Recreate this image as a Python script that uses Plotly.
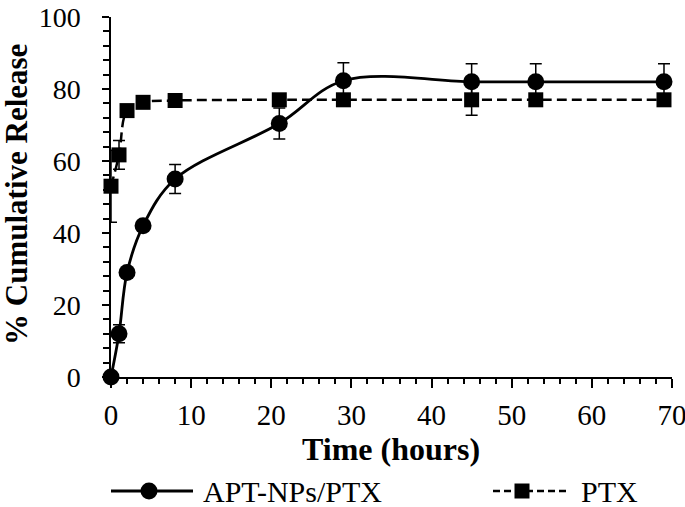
import plotly.graph_objects as go

time_hours = [0, 1, 2, 4, 8, 21, 29, 45, 53, 69]
apt_nps_ptx = [0, 12, 29, 42, 55, 70.4, 82.3, 82, 82, 82]
apt_err = [0, 2.5, 0, 0, 4, 4.3, 5, 5, 5, 5]
ptx = [53, 61.7, 74, 76.3, 76.8, 77, 77, 77, 77, 77]
ptx_err = [10, 4, 0, 0, 0, 0, 0, 4.3, 0, 0]
legend_labels = ["APT-NPs/PTX", "PTX"]
x_title = "<b>Time (hours)</b>"
y_title = "<b>% Cumulative Release</b>"

FONT = "Liberation Serif"

fig = go.Figure()
fig.add_trace(go.Scatter(
    x=time_hours, y=ptx, name=legend_labels[1], mode="lines+markers",
    line=dict(color="black", width=2.5, dash="10px,5px", shape="spline", smoothing=1),
    marker=dict(symbol="square", size=15, color="black"),
    error_y=dict(type="data", array=ptx_err, visible=True, color="black", thickness=1.5, width=6),
    showlegend=False, cliponaxis=False,
))
fig.add_trace(go.Scatter(
    x=time_hours, y=apt_nps_ptx, name=legend_labels[0], mode="lines+markers",
    line=dict(color="black", width=2.8, shape="spline", smoothing=1),
    marker=dict(symbol="circle", size=17, color="black"),
    error_y=dict(type="data", array=apt_err, visible=True, color="black", thickness=1.5, width=6),
    showlegend=False, cliponaxis=False,
))

# plot area in pixels
L, R, T, B = 111, 672, 17, 377
W, H = R - L, B - T
def px(x):
    return (x - L) / W
def py(y):
    return (B - y) / H

shapes = []
annotations = []
ly = py(491)
# legend entry 1: solid line + circle
shapes.append(dict(type="line", xref="paper", yref="paper", x0=px(111), x1=px(193), y0=ly, y1=ly,
                   line=dict(color="black", width=2.8)))
shapes.append(dict(type="circle", xref="paper", yref="paper", x0=px(149 - 8.5), x1=px(149 + 8.5),
                   y0=ly - 8.5 / H, y1=ly + 8.5 / H, fillcolor="black", line=dict(color="black", width=0)))
annotations.append(dict(text=legend_labels[0], xref="paper", yref="paper", x=px(201), y=ly,
                        xanchor="left", yanchor="middle", showarrow=False, font=dict(family=FONT, size=30)))
# legend entry 2: dashed line + square
shapes.append(dict(type="line", xref="paper", yref="paper", x0=px(493), x1=px(566), y0=ly, y1=ly,
                   line=dict(color="black", width=2.5, dash="7px,4px")))
shapes.append(dict(type="rect", xref="paper", yref="paper", x0=px(522 - 7.5), x1=px(522 + 7.5),
                   y0=ly - 7.5 / H, y1=ly + 7.5 / H, fillcolor="black", line=dict(color="black", width=0)))
annotations.append(dict(text=legend_labels[1], xref="paper", yref="paper", x=px(579), y=ly,
                        xanchor="left", yanchor="middle", showarrow=False, font=dict(family=FONT, size=30)))
# axis titles
annotations.append(dict(text=x_title, xref="paper", yref="paper", x=px(391), y=py(449),
                        xanchor="center", yanchor="middle", showarrow=False, font=dict(family=FONT, size=32)))
annotations.append(dict(text=y_title, xref="paper", yref="paper", x=px(16), y=py(195), textangle=-90,
                        xanchor="center", yanchor="middle", showarrow=False, font=dict(family=FONT, size=31)))

fig.update_layout(
    width=685, height=507,
    margin=dict(l=L, r=685 - R, t=T, b=507 - B),
    paper_bgcolor="white", plot_bgcolor="white",
    font=dict(family=FONT, size=29, color="black"),
    showlegend=False,
    shapes=shapes, annotations=annotations,
    xaxis=dict(
        range=[0, 70], dtick=10, tick0=0, showgrid=False, zeroline=False,
        showline=True, linecolor="black", linewidth=1.5, automargin=False,
        ticks="outside", ticklen=9, tickwidth=1.5, tickcolor="black",
        minor=dict(dtick=2, ticks="outside", ticklen=5, tickwidth=1.5, tickcolor="black"),
        tickfont=dict(family=FONT, size=29), ticklabeloverflow="allow",
        ticklabelstandoff=2,
    ),
    yaxis=dict(
        range=[0, 100], dtick=20, tick0=0, showgrid=False, zeroline=False,
        showline=True, linecolor="black", linewidth=1.5, automargin=False,
        ticks="outside", ticklen=7, tickwidth=1.5, tickcolor="black",
        minor=dict(dtick=4, ticks="outside", ticklen=6, tickwidth=1.5, tickcolor="black"),
        tickfont=dict(family=FONT, size=28), ticklabeloverflow="allow",
        ticklabelstandoff=16,
    ),
)

fig.write_html("out.html", config={"displayModeBar": False},
               post_script="document.body.style.margin='0';document.body.style.padding='0';")
